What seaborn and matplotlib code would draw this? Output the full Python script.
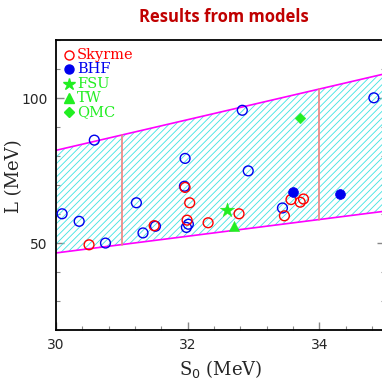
import numpy as np
import pandas as pd
import matplotlib
matplotlib.use("Agg")
import matplotlib.pyplot as plt
from matplotlib.ticker import MultipleLocator
import seaborn as sns

# ---- data ----
skyrme_x = [30.50, 31.49, 31.96, 31.99, 32.03, 32.31, 32.78, 33.47, 33.57, 33.71, 33.76]
skyrme_y = [49.4, 56.0, 69.2, 57.9, 63.9, 57.0, 60.1, 59.4, 65.0, 64.1, 65.2]
rmf_x = [30.09, 30.35, 30.58, 30.75, 31.22, 31.32, 31.51, 31.95, 31.96, 31.98, 32.01, 32.83, 32.92, 33.44, 34.83]
rmf_y = [60.1, 57.5, 85.5, 50.0, 63.9, 53.5, 55.8, 69.6, 79.2, 55.4, 56.5, 95.8, 74.9, 62.1, 100.1]
bhf_x = [33.60, 34.31]
bhf_y = [67.5, 66.8]
fsu_x = [32.60]
fsu_y = [61.3]
tw_x = [32.70]
tw_y = [55.8]
qmc_x = [33.70]
qmc_y = [93.2]
band_x = [30.0, 35.0]
band_low = [46.6, 61.0]
band_high = [82.0, 108.4]
vline_x = [31.0, 34.0]

sns.set_theme(style="white")
plt.rcParams['hatch.linewidth'] = 0.6

fig = plt.figure(figsize=(3.82, 3.82), dpi=100)
ax = fig.add_axes([0.147, 0.136, 0.861, 0.759])

# band
ax.fill_between(band_x, band_low, band_high, facecolor='none', edgecolor='#3ee2e2',
                hatch='/////', linewidth=0)
ax.plot(band_x, band_low, color='#ff00ff', lw=1.2)
ax.plot(band_x, band_high, color='#ff00ff', lw=1.2)
for vx in vline_x:
    lo = np.interp(vx, band_x, band_low)
    hi = np.interp(vx, band_x, band_high)
    ax.plot([vx, vx], [lo, hi], color='#f08080', lw=1.2)

ms = 50
sns.scatterplot(x=rmf_x, y=rmf_y, ax=ax, marker='o', s=ms, facecolor='none',
                edgecolor='#0000ee', linewidth=1.0, zorder=3)
sns.scatterplot(x=skyrme_x, y=skyrme_y, ax=ax, marker='o', s=ms, facecolor='none',
                edgecolor='#ff0000', linewidth=1.0, zorder=3)
sns.scatterplot(x=bhf_x, y=bhf_y, ax=ax, marker='o', s=ms, color='#0000ee',
                edgecolor='#0000ee', linewidth=0.5, zorder=4)
sns.scatterplot(x=fsu_x, y=fsu_y, ax=ax, marker='*', s=120, color='#22ee22',
                edgecolor='#22ee22', linewidth=0.3, zorder=4)
sns.scatterplot(x=tw_x, y=tw_y, ax=ax, marker='^', s=55, color='#22ee22',
                edgecolor='#22ee22', linewidth=0.3, zorder=4)
sns.scatterplot(x=qmc_x, y=qmc_y, ax=ax, marker='D', s=30, color='#22ee22',
                edgecolor='#22ee22', linewidth=0.3, zorder=4)

ax.set_xlim(30, 35)
ax.set_ylim(20, 120)
ax.set_xticks([30, 32, 34])
ax.set_yticks([50, 100])
ax.xaxis.set_minor_locator(MultipleLocator(0.4))
ax.yaxis.set_minor_locator(MultipleLocator(10))
ax.tick_params(which='both', direction='in', top=False, right=True, left=True, bottom=True,
               color='#888888')
ax.tick_params(which='major', length=6, width=1, labelsize=10, pad=6)
ax.tick_params(which='minor', length=3, width=0.8)
for lab in ax.get_xticklabels() + ax.get_yticklabels():
    lab.set_family('DejaVu Sans')
for side in ['left', 'bottom', 'top']:
    ax.spines[side].set_color('black')
    ax.spines[side].set_linewidth(1.3)
ax.spines['right'].set_visible(False)

ax.set_xlabel('S$_0$ (MeV)', family='DejaVu Serif', fontsize=13, labelpad=4)
ax.set_ylabel('L (MeV)', family='DejaVu Serif', fontsize=13)
ax.yaxis.set_label_coords(-0.10, 0.53)

fig.text(0.585, 0.955, 'Results from models', ha='center', va='center',
         color='#c00000', fontsize=12, fontweight='bold', family='Open Sans')

# legend
leg = [('o', 'Skyrme', '#ff0000', 'none'), ('o', 'BHF', '#0000ee', '#0000ee'),
       ('*', 'FSU', '#22ee22', '#22ee22'), ('^', 'TW', '#22ee22', '#22ee22'),
       ('D', 'QMC', '#22ee22', '#22ee22')]
sizes = {'o': 6.5, '*': 9, '^': 7, 'D': 5}
for i, (m, t, c, fc) in enumerate(leg):
    yy = 0.948 - i * 0.049
    ax.plot([0.04], [yy], marker=m, ms=sizes[m], mfc=fc, mec=c, mew=1.0,
            transform=ax.transAxes, ls='none', clip_on=False)
    ax.text(0.064, yy, t, color=c, transform=ax.transAxes, va='center', ha='left',
            family='DejaVu Serif', fontsize=10.5)

fig.savefig('out.png', dpi=100)
